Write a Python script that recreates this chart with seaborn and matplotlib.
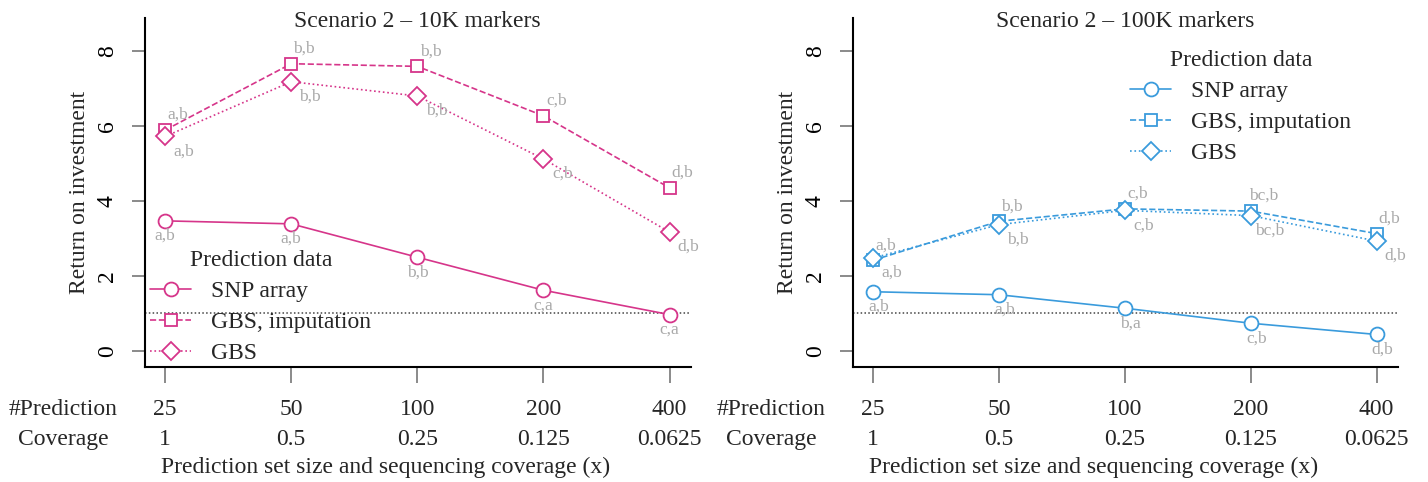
import numpy as np
import pandas as pd
import matplotlib
matplotlib.use("Agg")
import matplotlib.pyplot as plt
import matplotlib.transforms as mtransforms
import seaborn as sns

# ---------------- data ----------------
pred_sizes = ["25", "50", "100", "200", "400"]
coverages = ["1", "0.5", "0.25", "0.125", "0.0625"]
series_names = ["SNP array", "GBS, imputation", "GBS"]

snp_10k = [3.47, 3.39, 2.50, 1.62, 0.97]
gbs_imp_10k = [5.89, 7.66, 7.59, 6.27, 4.35]
gbs_10k = [5.72, 7.18, 6.80, 5.12, 3.17]

snp_100k = [1.58, 1.50, 1.14, 0.74, 0.44]
gbs_imp_100k = [2.42, 3.46, 3.79, 3.73, 3.13]
gbs_100k = [2.48, 3.37, 3.75, 3.61, 2.93]

lab_snp_10k = ["a,b", "a,b", "b,b", "c,a", "c,a"]
lab_gbs_imp_10k = ["a,b", "b,b", "b,b", "c,b", "d,b"]
lab_gbs_10k = ["a,b", "b,b", "b,b", "c,b", "d,b"]

lab_snp_100k = ["a,b", "a,b", "b,a", "c,b", "d,b"]
lab_gbs_imp_100k = ["a,b", "b,b", "c,b", "bc,b", "d,b"]
lab_gbs_100k = ["a,b", "b,b", "c,b", "bc,b", "d,b"]

titles = ["Scenario 2 \u2013 10K markers", "Scenario 2 \u2013 100K markers"]

# ---------------- style ----------------
sns.set_theme(style="ticks")
plt.rcParams["font.family"] = ["Liberation Serif", "DejaVu Serif"]
plt.rcParams["axes.unicode_minus"] = False

PINK = "#D6358A"
BLUE = "#3A9BDC"
GRAY = "#A9A9A9"
FS = 17
FS_SMALL = 12.5

fig = plt.figure(figsize=(14.28, 4.82), dpi=100)
ax1 = fig.add_axes([0.1015, 0.2386, 0.3824, 0.7241])
ax2 = fig.add_axes([0.5973, 0.2386, 0.3817, 0.7241])

x_idx = np.arange(len(pred_sizes))

styles = [("-", "o", 10.0, (0, 15)),
          ("--", "s", 9.0, (13, -15)),
          (":", "D", 8.8, (19, 15))]


def draw_panel(ax, color, vals, labs, title, legend_anchor, snp_dx):
    for (ls, mk, ms, off), name, v, lb in zip(styles, series_names, vals, labs):
        df = pd.DataFrame({"x": x_idx, "y": v})
        sns.lineplot(data=df, x="x", y="y", ax=ax, color=color, linestyle=ls,
                     linewidth=1.2, marker=mk, markersize=ms,
                     markerfacecolor="white", markeredgecolor=color,
                     markeredgewidth=1.3, label=name)
        dx, dy = off
        if mk == "o":
            dx = snp_dx
        for xi, yi, t in zip(x_idx, v, lb):
            ax.annotate(t, (xi, yi), xytext=(dx, -dy), textcoords="offset pixels",
                        ha="center", va="center", fontsize=FS_SMALL, color=GRAY)

    ax.axhline(1, color="#444444", linestyle=(0, (1, 1.5)), linewidth=1.1, zorder=0)

    ax.set_xlim(-0.16, 4.17)
    ax.set_ylim(-0.427, 8.88)
    ax.set_yticks([0, 2, 4, 6, 8])
    ax.set_yticklabels(["0", "2", "4", "6", "8"], rotation=90, va="center",
                       fontsize=FS)
    ax.set_xticks(x_idx)
    ax.set_xticklabels([])
    for s in ["top", "right"]:
        ax.spines[s].set_visible(False)
    for s in ["left", "bottom"]:
        ax.spines[s].set_color("black")
        ax.spines[s].set_linewidth(1.5)
    ax.tick_params(axis="y", length=9.5, width=1.2, color="#777777", pad=10,
                   labelcolor="black")
    ax.tick_params(axis="x", length=11.5, width=1.2, color="#777777")
    ax.set_xlabel("")
    ax.set_ylabel("Return on investment", fontsize=FS, labelpad=5)

    blend = mtransforms.blended_transform_factory(ax.transData, ax.transAxes)
    y_row1, y_row2, y_xlab = -0.123, -0.209, -0.2865
    for xi, p, c in zip(x_idx, pred_sizes, coverages):
        ax.text(xi, y_row1, p, transform=blend, ha="center", va="center",
                fontsize=FS, clip_on=False)
        ax.text(xi, y_row2, c, transform=blend, ha="center", va="center",
                fontsize=FS, clip_on=False)
    ax.text(-0.81, y_row1, "#Prediction", transform=blend, ha="center",
            va="center", fontsize=FS, clip_on=False)
    ax.text(-0.81, y_row2, "Coverage", transform=blend, ha="center",
            va="center", fontsize=FS, clip_on=False)
    ax.text(1.75, y_xlab, "Prediction set size and sequencing coverage (x)",
            transform=blend, ha="center", va="center", fontsize=FS, clip_on=False)
    ax.text(2, 0.99, title, transform=blend, ha="center", va="center",
            fontsize=FS, clip_on=False)

    leg = ax.legend(title="Prediction data", loc="upper left",
                    bbox_to_anchor=legend_anchor, bbox_transform=fig.transFigure,
                    frameon=False, fontsize=FS, title_fontsize=FS,
                    handlelength=1.75, handletextpad=0.85, labelspacing=0.4,
                    borderpad=0, borderaxespad=0, numpoints=1)
    leg.set_zorder(5)


draw_panel(ax1, PINK, [snp_10k, gbs_imp_10k, gbs_10k],
           [lab_snp_10k, lab_gbs_imp_10k, lab_gbs_10k], titles[0],
           (150 / 1428, 1 - 250 / 482), 0)
draw_panel(ax2, BLUE, [snp_100k, gbs_imp_100k, gbs_100k],
           [lab_snp_100k, lab_gbs_imp_100k, lab_gbs_100k], titles[1],
           (1130 / 1428, 1 - 50 / 482), 6)

fig.savefig("out.png", dpi=100)
